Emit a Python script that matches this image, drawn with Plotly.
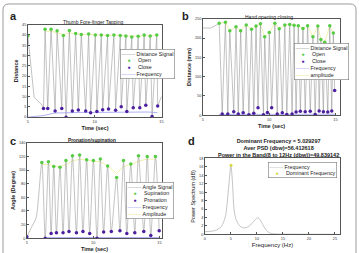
import plotly.graph_objects as go

W, H = 359, 253
FONT = "Liberation Sans, Arial, sans-serif"

# ---------------- Panel a : Thumb fore-finger tapping ----------------
a_open_t = [5.0, 6.29, 6.74, 7.19, 7.66, 8.11, 8.58, 9.0, 9.55, 10.05, 10.5, 10.97,
            11.44, 11.92, 12.34, 12.78, 13.26, 13.71, 14.16, 14.65]
a_open_v = [39.6, 42.8, 42.8, 42.0, 39.7, 42.1, 40.7, 40.2, 40.5, 40.0, 40.0, 39.7,
            40.0, 39.7, 39.5, 39.0, 39.3, 40.0, 39.5, 40.0]
a_close_t = [6.17, 6.49, 7.04, 7.54, 7.86, 8.33, 8.78, 9.33, 9.7, 10.17, 10.6, 11.04,
             11.57, 11.99, 12.41, 12.89, 13.38, 13.83, 14.3, 14.72]
a_close_v = [4.2, 4.2, 3.0, 4.2, 0.0, 3.0, 3.5, 3.0, 2.2, 2.8, 3.6, 4.0,
             3.3, 5.0, 2.8, 4.6, 4.6, 5.8, 0.3, 5.4]
a_extra_t = [5.47, 6.05, 15.0]
a_extra_v = [9.7, 6.0, 10.0]
a_freq_t = [5.0, 6.2, 7.0, 8.0, 9.0, 10.0, 11.0, 12.0, 13.0, 14.0, 14.7]
a_freq_v = [0.0, 0.8, 2.0, 2.3, 2.3, 2.3, 2.4, 2.4, 2.4, 2.5, 2.2]
a_amp_v = [41.5, 41.8, 41.0, 40.2, 41.0, 40.5, 40.2, 40.3, 40.0, 40.0, 39.8, 39.9,
           39.7, 39.5, 39.2, 39.3, 39.7, 39.5, 39.8]

# ---------------- Panel b : Hand opening closing ----------------
b_open_t = [6.23, 6.70, 7.03, 7.50, 7.85, 8.27, 8.67, 9.01, 9.34, 9.66, 10.01, 10.43,
            10.76, 11.18, 11.55, 11.88, 12.20, 12.55, 12.90, 13.30, 13.67, 13.90, 14.19,
            14.57, 14.84]
b_open_v = [238, 241, 219, 229, 219, 234, 223, 231, 237, 203, 214, 238,
            224, 234, 235, 233, 232, 225, 232, 203, 231, 196, 189, 232, 213]
b_close_t = [6.46, 6.88, 7.33, 7.67, 8.04, 8.47, 8.84, 9.16, 9.57, 9.87, 10.19, 10.61,
             10.99, 11.33, 11.73, 12.03, 12.35, 12.72, 13.10, 13.47, 13.77, 14.09, 14.42,
             14.72, 14.94]
b_close_v = [3, 3, 9, 3, 6, 1, 5, 19, 1, 7, 19, 3, 6, 2, 3, 8, 10, 9, 10, 2, 11, 9, 8, 11, 64]
b_extra_t = [5.0, 5.6, 6.0]
b_extra_v = [226, 226, 233]
b_freq_t = [6.2, 8.0, 10.0, 12.0, 14.0, 15.0]
b_freq_v = [2.0, 2.5, 2.5, 2.5, 2.5, 2.5]

# ---------------- Panel c : Pronation / supination ----------------
c_sup_t = [6.13, 6.63, 7.03, 7.50, 7.95, 8.44, 8.98, 9.51, 10.02, 10.54, 11.09, 11.77,
           12.29, 12.84, 13.42, 14.08, 14.70]
c_sup_v = [111, 112, 105, 104, 114, 121, 122, 115, 114, 116, 106, 89, 114, 109, 121, 120, 120]
c_pro_t = [5.0, 6.38, 6.83, 7.23, 7.73, 8.18, 8.74, 9.23, 9.74, 10.29, 10.79, 11.37,
           12.02, 12.54, 13.14, 13.82, 14.35, 14.98]
c_pro_v = [2, 0, 7, 8, 8, 10, 8, 10, 7, 0, 9, 10, 11, 7, 8, 10, 4, 11]
c_extra_t = [5.4, 5.7]
c_extra_v = [18, 30]
c_freq_t = [6.38, 8.0, 10.0, 12.0, 14.0, 15.0]
c_freq_v = [1.0, 1.0, 1.0, 1.0, 1.0, 1.0]
c_amp_v = [108, 108, 106, 105, 108, 113, 116, 114, 113, 112, 106, 95, 105, 108, 113, 116, 116]

# ---------------- Panel d : Power spectrum ----------------
d_freq = [0, 1, 2, 3, 3.5, 4, 4.3, 4.6, 5.0, 5.3, 5.6, 6.0, 6.5, 7.0, 7.5, 8.0, 8.5,
          9.0, 9.5, 10.0, 10.3, 10.6, 11.0, 11.5, 12.0, 12.5, 13, 14, 16, 20, 25]
d_power = [0.6, 0.7, 0.9, 1.6, 2.6, 4.5, 7.6, 11.5, 16.4, 12.5, 6.0, 3.5, 2.3, 1.7, 1.5,
           1.6, 1.9, 2.5, 3.2, 3.8, 3.9, 3.5, 2.6, 1.5, 0.7, 0.3, 0.15, 0.05, 0.02, 0.0, 0.0]
d_dom_f = [5.029297]
d_dom_p = [16.4]
d_title = ["Dominant Frequency = 5.029297", "Aver PSD (dbw)=56.412618",
           "Power in the Band(8 to 12Hz (dbw))=49.839142"]

GRAY = "#9a9a9a"
GREEN = "#55cc44"
PURPLE = "#4b1fa0"
LAV = "#9c9cf0"
YEL = "#e6e67a"


def merge(*pairs):
    pts = []
    for t, v in pairs:
        pts += list(zip(t, v))
    pts.sort()
    return [p[0] for p in pts], [p[1] for p in pts]


fig = go.Figure()


def line(x, y, color, ax, width=0.6, shape="linear", name=None):
    fig.add_trace(go.Scatter(x=x, y=y, mode="lines", name=name,
                             line=dict(color=color, width=width, shape=shape,
                                       smoothing=0.7 if shape == "spline" else None),
                             xaxis="x" + ax, yaxis="y" + ax, showlegend=False,
                             hoverinfo="skip"))


def dots(x, y, color, ax, name=None, size=3.5):
    fig.add_trace(go.Scatter(x=x, y=y, mode="markers", name=name,
                             marker=dict(color=color, size=size, line=dict(width=0)),
                             xaxis="x" + ax, yaxis="y" + ax, showlegend=False))


# a
sx, sy = merge((a_open_t, a_open_v), (a_close_t, a_close_v), (a_extra_t, a_extra_v))
line(a_open_t[1:], a_amp_v, YEL, "", 0.6)
line(sx, sy, GRAY, "", 0.6, name="Distance Signal")
line(a_freq_t, a_freq_v, LAV, "", 0.8, name="Frequency")
dots(a_open_t, a_open_v, GREEN, "", "Open")
dots(a_close_t, a_close_v, PURPLE, "", "Close")

# b
sx, sy = merge((b_open_t, b_open_v), (b_close_t, b_close_v), (b_extra_t, b_extra_v))
line(b_open_t, b_open_v, YEL, "2", 0.6, name="amplitude")
line(sx, sy, GRAY, "2", 0.6, name="Distance Signal")
line(b_freq_t, b_freq_v, LAV, "2", 0.8, name="Frequency")
dots(b_open_t, b_open_v, GREEN, "2", "Open")
dots(b_close_t, b_close_v, PURPLE, "2", "Close")

# c
sx, sy = merge((c_sup_t, c_sup_v), (c_pro_t, c_pro_v), (c_extra_t, c_extra_v))
line(c_sup_t, c_amp_v, YEL, "3", 0.6, name="Amplitude")
line(sx, sy, GRAY, "3", 0.6, shape="spline", name="Angle Signal")
line(c_freq_t, c_freq_v, LAV, "3", 0.8, name="Frequency")
dots(c_sup_t, c_sup_v, GREEN, "3", "Supination")
dots(c_pro_t, c_pro_v, PURPLE, "3", "Pronation")

# d
line(d_freq, d_power, "#b4b4b4", "4", 0.8, shape="spline", name="Frequency")
dots(d_dom_f, d_dom_p, "#d8d840", "4", "Dominant Frequency", size=3)


def px_x(p):
    return p / W


def px_y(p):
    return 1 - p / H


AX = dict(showline=True, mirror=True, linecolor="#555", linewidth=0.6, ticks="inside",
          ticklen=2, tickcolor="#555", tickwidth=0.6, showgrid=False, zeroline=False,
          tickfont=dict(size=3.8, color="#333", family=FONT))
TT = dict(size=5.5, color="#222", family=FONT)


def xax(dom, rng, dtick, title, standoff=3):
    d = dict(AX)
    d.update(domain=[px_x(dom[0]), px_x(dom[1])], range=rng, dtick=dtick,
             title=dict(text=title, font=TT, standoff=standoff))
    return d


def yax(dom, rng, dtick, title, anchor, standoff=3):
    d = dict(AX)
    d.update(domain=[px_y(dom[1]), px_y(dom[0])], range=rng, dtick=dtick, anchor=anchor,
             title=dict(text=title, font=TT, standoff=standoff))
    return d


fig.update_layout(
    width=W, height=H, margin=dict(l=0, r=0, t=0, b=0),
    paper_bgcolor="white", plot_bgcolor="white", showlegend=False,
    font=dict(family=FONT),
    xaxis=xax((27, 162), [5, 15.05], 5, "<b>Time (sec)</b>"),
    yaxis=yax((23, 117), [0, 45], 5, "<b>Distance</b>", "x"),
    xaxis2=dict(xax((203, 341), [5, 15.35], 5, "<b>Time (sec)</b>"), anchor="y2"),
    yaxis2=yax((17, 115), [0, 250], 50, "<b>Distance (mm)</b>", "x2"),
    xaxis3=dict(xax((26, 162), [5, 15.2], 5, "<b>Time (sec)</b>"), anchor="y3"),
    yaxis3=yax((143, 240), [0, 140], 20, "<b>Angle (Degree)</b>", "x3"),
    xaxis4=dict(xax((205, 341), [0, 26], 5, "Frequency (Hz)"), anchor="y4"),
    yaxis4=yax((159, 236), [0, 18], 2, "Power Spectrum (dB)", "x4"),
)
fig.layout.xaxis4.title.font = dict(size=6, color="#222", family=FONT)

anns = []


def text(x, y, s, size, bold=False, xanchor="center", color="#222"):
    anns.append(dict(x=px_x(x), y=px_y(y), xref="paper", yref="paper", showarrow=False,
                     text=("<b>%s</b>" % s) if bold else s, xanchor=xanchor,
                     yanchor="middle", font=dict(size=size, color=color, family=FONT)))


text(13, 14, "a", 11, True)
text(186, 14, "b", 11, True)
text(12, 141, "c", 11, True)
text(192, 141, "d", 11, True)
text(93, 20, "Thumb Fore-finger Tapping", 5)
text(270, 15, "Hand opening closing", 5)
text(92, 141, "Pronation/supination", 4.8, True)
text(279, 148, "<br>".join(d_title), 5.5, True)

NB = "\u00a0"


def legend(x, y, items, size=5.3):
    rows = []
    for kind, color, label in items:
        if kind == "line":
            sym = "<span style='color:%s'>\u2014\u2014\u2013</span>" % color
        else:
            sym = NB * 4 + "<span style='color:%s'>\u25cf</span>" % color + NB * 4
        rows.append(sym + NB + label)
    anns.append(dict(x=px_x(x), y=px_y(y), xref="paper", yref="paper", showarrow=False,
                     text="<br>".join(rows), align="left", xanchor="left", yanchor="top",
                     bgcolor="white", bordercolor="#777", borderwidth=0.6, borderpad=1,
                     font=dict(size=size, color="#222", family=FONT)))


legend(120, 48, [("line", GRAY, "Distance Signal"), ("dot", GREEN, "Open"),
                 ("dot", PURPLE, "Close"), ("line", LAV, "Frequency")])
legend(295, 42, [("line", GRAY, "Distance Signal"), ("dot", GREEN, "Open"),
                 ("dot", PURPLE, "Close"), ("line", LAV, "Frequency"),
                 ("line", YEL, "amplitude")])
legend(126, 183, [("line", GRAY, "Angle Signal"), ("dot", GREEN, "Supination"),
                  ("dot", PURPLE, "Pronation"), ("line", LAV, "Frequency"),
                  ("line", YEL, "Amplitude")])
legend(268, 163, [("line", "#b4b4b4", "Frequency"), ("dot", "#d8d840", "Dominant Frequency")])

fig.update_layout(annotations=anns)

# rounded outer frame
x0, x1, yt, yb = 2 / W, 357 / W, 1 - 2 / H, -8 / H
rx, ry = 6 / W, 6 / H
path = ("M %f,%f Q %f,%f %f,%f L %f,%f Q %f,%f %f,%f L %f,%f L %f,%f Z" %
        (x0, yt - ry, x0, yt, x0 + rx, yt, x1 - rx, yt, x1, yt, x1, yt - ry, x1, yb, x0, yb))
fig.add_shape(type="path", path=path, xref="paper", yref="paper",
              line=dict(color="#9a9a9a", width=1))

fig.write_html("out.html")
